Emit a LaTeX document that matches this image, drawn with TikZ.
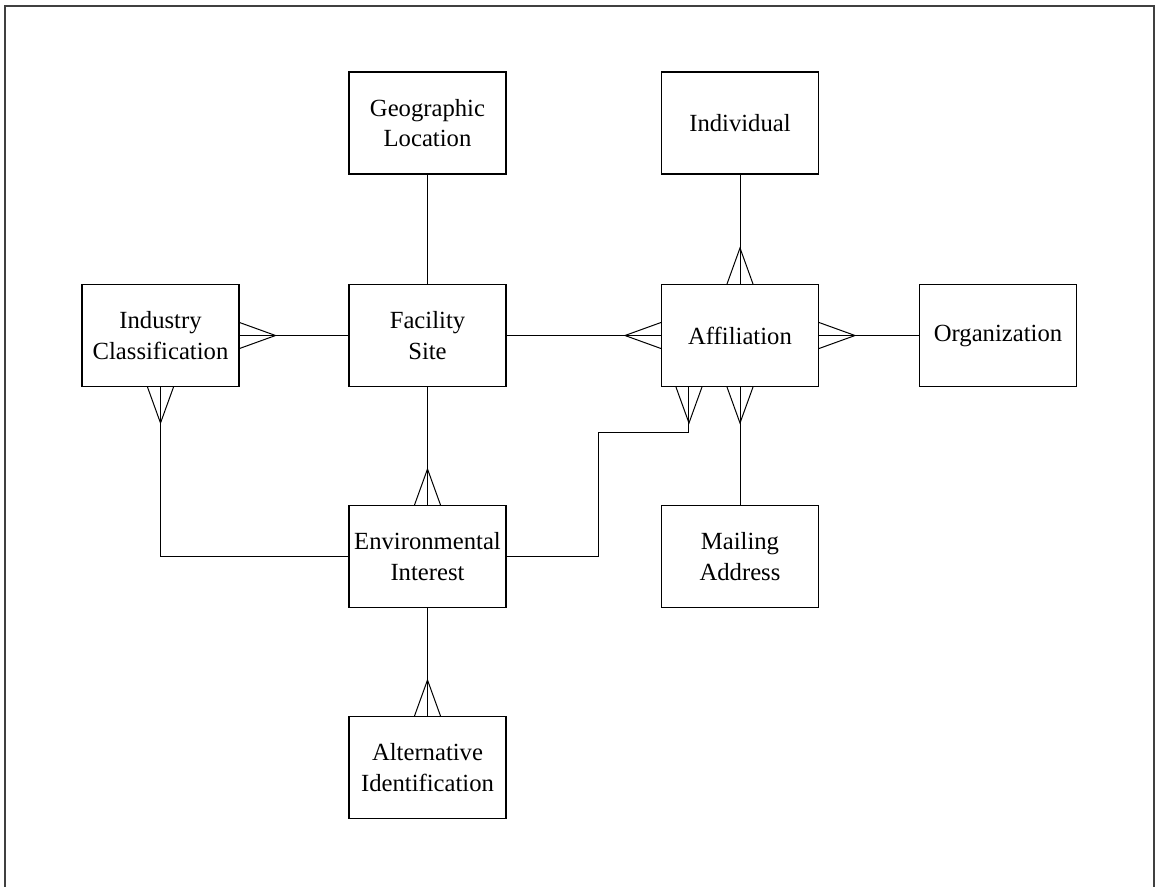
\documentclass[tikz,border=0pt]{standalone}
\usepackage{fontspec}
\setmainfont{Liberation Serif}
\usetikzlibrary{calc}
\newcommand{\crowft}[3]{\draw[conn] ($(#1)+(#3)$) -- ($(#1)+(#2)$) -- ($(#1)-(#3)$);}
\begin{document}
\begin{tikzpicture}[x=0.75pt,y=-0.75pt,
  ent/.style={draw,line width=0.8pt,rectangle,inner sep=0pt,minimum width=117.75pt,minimum height=76.5pt,align=center,font=\fontsize{18.5pt}{23pt}\selectfont},
  conn/.style={line width=0.75pt},
  frame/.style={line width=0.9pt,draw=black!75}]
\useasboundingbox (0,0) rectangle (1156,886);
\draw[frame] (5,890) -- (5,6) -- (1154,6) -- (1154,890);
\node[ent] (geo) at (427.5,123) {Geographic\\Location};
\node[ent] (indiv) at (740,123) {Individual};
\node[ent] (ind) at (160.5,335.5) {Industry\\Classification};
\node[ent] (fac) at (427.5,335.5) {Facility\\Site};
\node[ent] (aff) at (740,335.5) {Affiliation};
\node[ent] (org) at (998,335.5) {Organization};
\node[ent] (env) at (427.5,556.5) {Environmental\\Interest};
\node[ent] (mail) at (740,556.5) {Mailing\\Address};
\node[ent] (alt) at (427.5,767.5) {Alternative\\Identification};
\coordinate (affb) at ($(aff.south west)+(28,0)$);
\coordinate (j1) at (598,432);
% connectors
\draw[conn] (geo) -- (fac);
\draw[conn] (ind) -- (fac);
\crowft{ind.east}{36,0}{0,13}
\draw[conn] (fac) -- (aff);
\crowft{aff.west}{-36,0}{0,13}
\draw[conn] (indiv) -- (aff);
\crowft{aff.north}{0,-36}{13,0}
\draw[conn] (aff) -- (org);
\crowft{aff.east}{36,0}{0,13}
\draw[conn] (aff) -- (mail);
\crowft{aff.south}{0,36}{13,0}
\draw[conn] (fac) -- (env);
\crowft{env.north}{0,-36}{13,0}
\draw[conn] (env) -- (alt);
\crowft{alt.north}{0,-36}{13,0}
\draw[conn] (ind.south) |- (env.west);
\crowft{ind.south}{0,36}{13,0}
\draw[conn] (env.east) -| (j1) -| (affb);
\crowft{affb}{0,36}{13,0}
\end{tikzpicture}
\end{document}
